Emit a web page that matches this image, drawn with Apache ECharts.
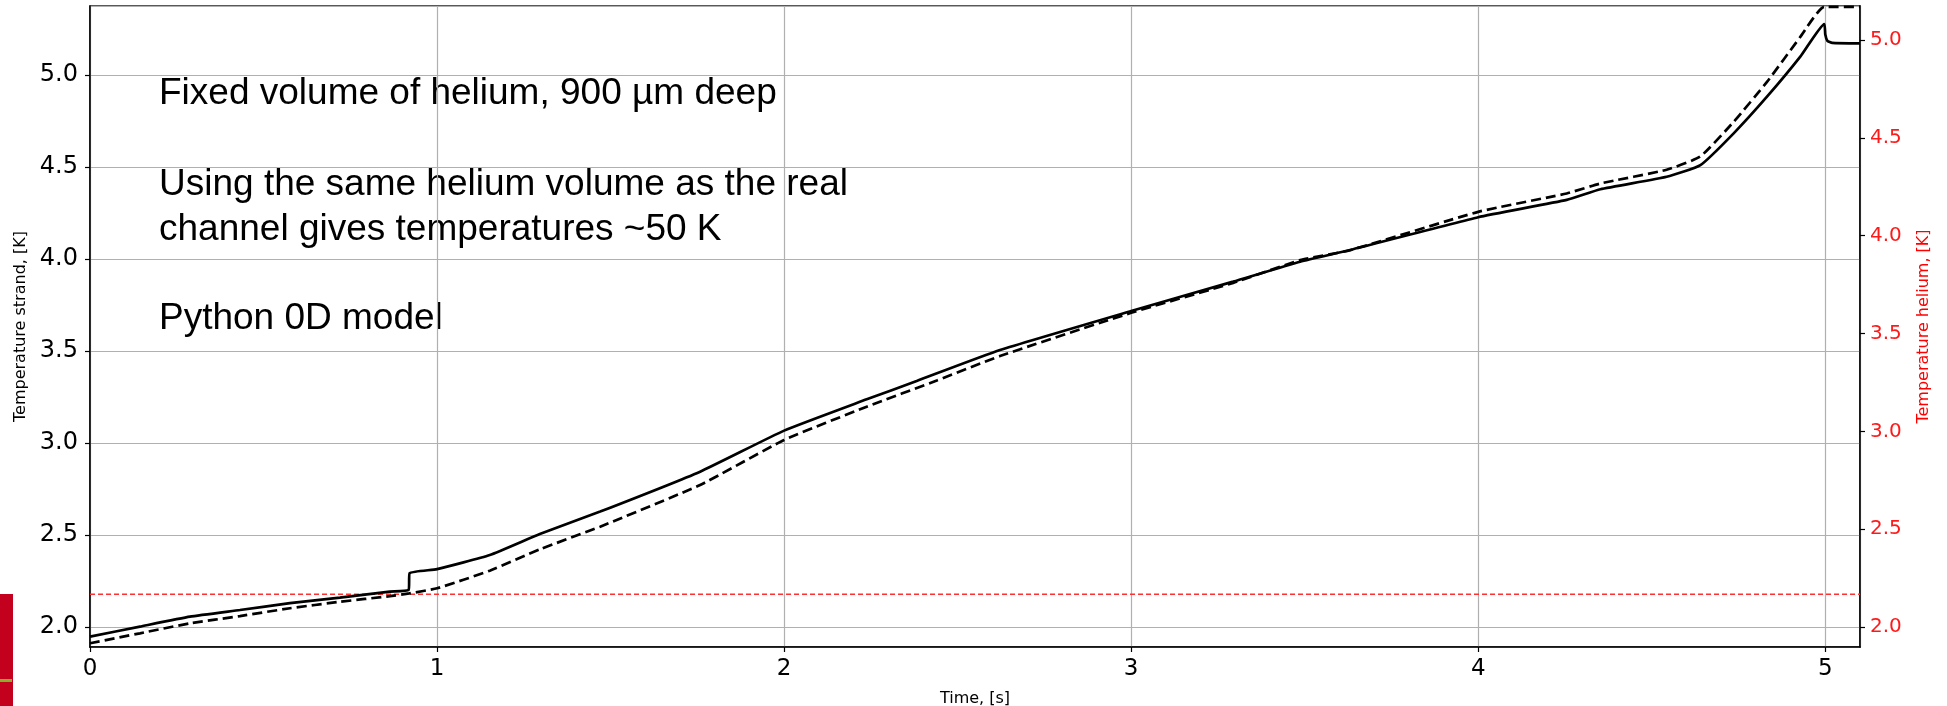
<!DOCTYPE html>
<html>
<head>
<meta charset="utf-8">
<script src="https://cdn.jsdelivr.net/npm/echarts@6/dist/echarts.min.js"></script>
<style>
html, body { margin: 0; padding: 0; background: #fff; }
#chart { width: 1947px; height: 706px; }
</style>
</head>
<body>
<div id="chart"></div>
<script>
// strand temperature (solid, left axis)
var strandTime = [0, 0.144, 0.288, 0.432, 0.576, 0.72, 0.864, 0.918, 0.921, 1.0, 1.152, 1.296, 1.47, 1.758, 2.0, 2.238, 2.382, 2.622, 3.0, 3.294, 3.487, 3.631, 4.0, 4.255, 4.352, 4.543, 4.64, 4.736, 4.832, 4.928, 4.997, 5.0, 5.006, 5.02, 5.1];
var strandTemp = [1.947, 2.002, 2.056, 2.092, 2.129, 2.159, 2.192, 2.201, 2.292, 2.314, 2.391, 2.505, 2.627, 2.844, 3.067, 3.237, 3.337, 3.505, 3.717, 3.877, 3.985, 4.049, 4.227, 4.321, 4.379, 4.447, 4.51, 4.683, 4.882, 5.100, 5.277, 5.22, 5.186, 5.175, 5.172];

// helium temperature (dashed, right axis)
var heliumTime = [0, 0.144, 0.288, 0.432, 0.576, 0.72, 0.864, 0.92, 1.0, 1.152, 1.296, 1.47, 1.758, 2.0, 2.238, 2.44, 2.622, 3.0, 3.294, 3.487, 3.631, 4.0, 4.255, 4.352, 4.543, 4.64, 4.736, 4.832, 4.928, 4.997, 5.1];
var heliumTemp = [1.917, 1.968, 2.019, 2.056, 2.096, 2.129, 2.158, 2.172, 2.198, 2.288, 2.397, 2.513, 2.726, 2.956, 3.126, 3.26, 3.385, 3.606, 3.759, 3.875, 3.926, 4.122, 4.216, 4.267, 4.337, 4.405, 4.582, 4.786, 5.016, 5.17, 5.17];

// lambda point line
var lambdaTime = [0, 5.1];
var lambdaTemp = [2.168, 2.168];

var notes = [
    'Fixed volume of helium, 900 µm deep',
    'Using the same helium volume as the real',
    'channel gives temperatures ~50 K',
    'Python 0D model'
];
var noteTop = [75, 166, 211, 300];

function pairs(xs, ys) {
    return xs.map(function (x, i) { return [x, ys[i]]; });
}

var tickFont = 'DejaVu Sans';
var nameFont = 'DejaVu Sans';

var option = {
    animation: false,
    backgroundColor: '#fff',
    grid: {
        left: 90, right: 87, top: 6, bottom: 59,
        containLabel: false,
        outerBoundsMode: 'none',
        show: true, borderColor: '#222', borderWidth: 1.5, backgroundColor: 'transparent'
    },
    xAxis: {
        type: 'value',
        min: 0, max: 5.1, interval: 1,
        name: 'Time, [s]',
        nameLocation: 'middle',
        nameGap: 44,
        nameTextStyle: { color: '#000', fontSize: 16, fontFamily: nameFont },
        axisLine: { show: true, lineStyle: { color: '#000', width: 1.5 } },
        axisTick: { show: true, inside: false, length: 5, lineStyle: { color: '#000', width: 1.2 } },
        axisLabel: { color: '#000', fontSize: 23, fontFamily: tickFont, margin: 11, showMaxLabel: false },
        splitLine: { show: true, lineStyle: { color: '#b0b0b0', width: 1.2 } }
    },
    yAxis: [
        {
            type: 'value',
            position: 'left',
            min: 1.891, max: 5.375, splitNumber: 6,
            name: 'Temperature strand, [K]',
            nameLocation: 'middle',
            nameGap: 59,
            nameTextStyle: { color: '#000', fontSize: 16, fontFamily: nameFont },
            axisLine: { show: true, lineStyle: { color: '#000', width: 1.5 } },
            axisTick: { show: true, inside: false, length: 5, lineStyle: { color: '#000', width: 1.2 } },
            axisLabel: {
                color: '#000', fontSize: 24, fontFamily: tickFont, margin: 12,
                showMinLabel: false, showMaxLabel: false,
                formatter: function (v) { return v.toFixed(1); }
            },
            splitLine: { show: true, lineStyle: { color: '#b0b0b0', width: 1.2 } }
        },
        {
            type: 'value',
            position: 'right',
            min: 1.898, max: 5.174, splitNumber: 6,
            name: 'Temperature helium, [K]',
            nameLocation: 'middle',
            nameGap: 56,
            nameRotate: 90,
            nameTextStyle: { color: '#ff0000', fontSize: 16, fontFamily: nameFont },
            axisLine: { show: true, lineStyle: { color: '#000', width: 1.5 } },
            axisTick: { show: true, inside: false, length: 5, lineStyle: { color: '#000', width: 1.2 } },
            axisLabel: {
                color: '#ff1a1a', fontSize: 20, fontFamily: tickFont, margin: 10,
                showMinLabel: false, showMaxLabel: false,
                formatter: function (v) { return v.toFixed(1); }
            },
            splitLine: { show: false }
        }
    ],
    series: [
        {
            name: 'lambda',
            type: 'line',
            yAxisIndex: 1,
            showSymbol: false,
            silent: true,
            z: 1,
            data: pairs(lambdaTime, lambdaTemp),
            lineStyle: { color: '#ff3030', width: 1.5, type: [5, 3] }
        },
        {
            name: 'Helium',
            type: 'line',
            yAxisIndex: 1,
            showSymbol: false,
            smooth: 0.15,
            z: 3,
            data: pairs(heliumTime, heliumTemp),
            lineStyle: { color: '#000', width: 2.7, type: [10, 5] }
        },
        {
            name: 'Strand',
            type: 'line',
            yAxisIndex: 0,
            showSymbol: false,
            smooth: 0.15,
            z: 4,
            data: pairs(strandTime, strandTemp),
            lineStyle: { color: '#000', width: 2.7 }
        }
    ],
    graphic: notes.map(function (t, i) {
        return {
            type: 'text',
            left: 159,
            top: noteTop[i],
            style: { text: t, fill: '#000', font: '37px "Liberation Sans", Arial, sans-serif' }
        };
    }).concat([
        // cropped slide logo at the bottom left
        { type: 'rect', left: 0, top: 594, shape: { width: 13, height: 112 }, style: { fill: '#c4001f' } },
        { type: 'rect', left: 0, top: 679, shape: { width: 12, height: 3 }, style: { fill: '#7fb32a' } }
    ])
};

var chart = echarts.init(document.getElementById('chart'));
chart.setOption(option);
</script>
</body>
</html>
